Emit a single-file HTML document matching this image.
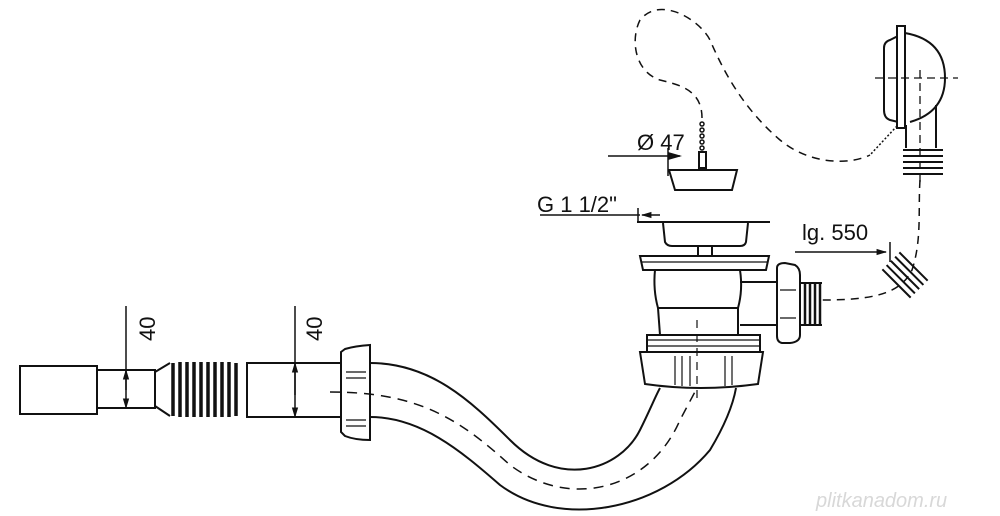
<!DOCTYPE html>
<html><head><meta charset="utf-8"><style>
html,body{margin:0;padding:0;background:#fff;}
svg{display:block;}
text{font-family:"Liberation Sans",sans-serif;fill:#111;}
</style></head><body>
<svg width="1000" height="516" viewBox="0 0 1000 516" xmlns="http://www.w3.org/2000/svg">
<defs>
<marker id="ar" viewBox="0 0 10 10" refX="9" refY="5" markerWidth="7" markerHeight="7" orient="auto-start-reverse"><path d="M0,2 L10,5 L0,8 z" fill="#111"/></marker>
</defs>
<g fill="none" stroke="#111" stroke-width="2">
<rect x="20" y="366" width="77" height="48" fill="#fff"/>
<rect x="97" y="370" width="58" height="38"/>
<path d="M155,372 L170,363 M155,406 L170,416"/>
<g stroke-width="3.5">
<path d="M173,363 V416 M180,362 V417 M187,362 V417 M194,362 V417 M201,362 V417 M208,362 V417 M215,362 V417 M222,362 V417 M229,362 V417 M236,363 V416"/>
</g>
<rect x="247" y="363" width="95" height="54"/>
<path d="M341,352 L345,349 Q355,346 370,345 L370,440 Q355,440 345,436 L341,432 Z" fill="#fff"/>
<path d="M346,372 h20 M346,378 h20 M346,420 h20 M346,426 h20" stroke-width="1.2"/>
<path d="M370,363 C430,363 470,400 510,440 C560,490 620,470 640,430 C650,410 656,395 660,388"/>
<path d="M370,417 C420,417 460,450 500,485 C560,530 660,510 710,450 C725,425 733,405 736,388"/>
<path d="M330,392 C420,392 460,420 510,465 C570,510 650,490 680,420 L697,388" stroke-dasharray="10,7" stroke-width="1.5"/>
<path d="M126,306 V408" stroke-width="1.5" marker-end="url(#ar)"/>
<path d="M126,390 V370" stroke-width="1.5" marker-end="url(#ar)"/>
<path d="M295,306 V417" stroke-width="1.5" marker-end="url(#ar)"/>
<path d="M295,395 V363" stroke-width="1.5" marker-end="url(#ar)"/>
<path d="M637,222 H770"/>
<path d="M663,223 L665,242 Q667,246 672,246 H740 Q745,246 746,242 L748,223"/>
<rect x="698" y="246" width="14" height="10"/>
<path d="M640,256 H769 L766,270 H643 Z" fill="#fff"/>
<path d="M642,262 H767" stroke-width="1.2"/>
<path d="M655,270 Q653,290 658,308 L660,335 M740,270 Q743,290 738,308 L738,335 M658,308 H738"/>
<rect x="647" y="335" width="113" height="17" fill="#fff"/>
<path d="M648,340 H759 M648,346 H759" stroke-width="1.2"/>
<path d="M640,352 H763 L758,384 Q700,392 645,384 Z" fill="#fff"/>
<path d="M675,356 V385 M682,356 V386 M690,356 V386 M725,356 V386 M732,356 V385" stroke-width="1.2"/>
<path d="M697,320 V400" stroke-dasharray="8,6" stroke-width="1.2"/>
<path d="M740,282 H778 M740,325 H778"/>
<path d="M777,268 Q777,263 785,263 L795,265 Q800,268 800,275 L800,335 Q800,342 790,343 L782,343 Q777,342 777,336 Z" fill="#fff"/>
<path d="M780,290 h16 M780,318 h16" stroke-width="1.2"/>
<g stroke-width="2.5"><path d="M805,283 V325 M810,283 V325 M815,283 V325 M820,283 V325"/></g>
<path d="M800,283 H822 M800,325 H822"/>
<path d="M669,170 H737 L732,190 H675 Z" fill="#fff"/>
<rect x="699" y="152" width="7" height="16"/>
<g stroke-width="1.5"><circle cx="702" cy="124" r="2"/><circle cx="702" cy="130" r="2"/><circle cx="702" cy="136" r="2"/><circle cx="702" cy="142" r="2"/><circle cx="702" cy="148" r="2"/></g>
<path d="M702,118 C702,90 680,85 660,80 C635,72 630,40 640,20 C660,-5 700,20 710,40 C725,75 745,110 780,140 C810,165 850,165 870,155" stroke-dasharray="8,6" stroke-width="1.5"/>
<path d="M890,40 L898,36 V122 L890,120 Q884,118 884,110 V48 Q884,42 890,40 Z" fill="#fff"/>
<rect x="897" y="26" width="8" height="102" fill="#fff"/>
<path d="M905,33 Q945,40 945,78 Q945,112 910,122"/>
<path d="M906,125 V148 M936,105 V148"/>
<g stroke-width="2"><path d="M903,150 H943 M903,156 H943 M903,162 H943 M903,168 H943 M903,174 H943"/></g>
<path d="M875,78 H958 M920,70 V185" stroke-dasharray="8,5" stroke-width="1.3"/>
<path d="M897,126 L870,155" stroke-width="1.5" stroke-dasharray="2,2"/>
<path d="M920,180 C918,210 922,240 912,270 C900,295 870,300 822,300" stroke-dasharray="8,6" stroke-width="1.5"/>
<g transform="rotate(45 905 275)" stroke-width="2"><path d="M885,263 H925 M885,269 H925 M885,275 H925 M885,281 H925 M885,287 H925"/></g>
<path d="M608,156 H680" stroke-width="1.5"/>
<path d="M668,148 V176" stroke-width="1.5"/>
<path d="M540,215 H640" stroke-width="1.5"/>
<path d="M638,208 V222" stroke-width="1.5"/>
<path d="M660,215 H642" stroke-width="1.5" marker-end="url(#ar)"/>
<path d="M795,252 H886" stroke-width="1.5" marker-end="url(#ar)"/>
<path d="M890,242 V262" stroke-width="1.5"/>
</g>
<path d="M682,156 L668,152 L668,160 Z" fill="#111"/>
<text x="637" y="150" font-size="22">Ø 47</text>
<text x="537" y="212" font-size="22">G 1 1/2"</text>
<text x="802" y="240" font-size="22">lg. 550</text>
<text transform="translate(155,341) rotate(-90)" font-size="22">40</text>
<text transform="translate(322,341) rotate(-90)" font-size="22">40</text>
<text x="816" y="507" font-size="20" font-style="italic" style="fill:#d8d8d8">plitkanadom.ru</text>
</svg>
</body></html>
